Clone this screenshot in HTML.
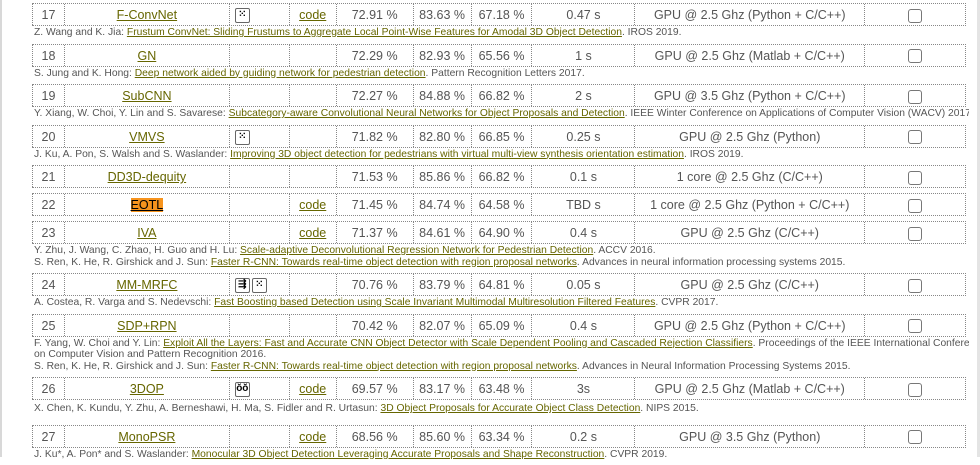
<!DOCTYPE html>
<html><head><meta charset="utf-8"><style>
html,body{margin:0;padding:0;}
body{width:980px;height:457px;overflow:hidden;background:#fff;font-family:"Liberation Sans",sans-serif;color:#555;position:relative;}
.lstrip{position:absolute;left:0;top:0;width:2px;height:457px;background:#d8d8d8;}
.rstrip{position:absolute;right:0;top:0;width:3px;height:457px;background:#e4e4e4;}
#tbl{position:absolute;left:32px;top:3px;width:934px;}
.entry{margin-bottom:5px;}
.row{display:flex;height:23px;border-top:1px dotted #888;border-bottom:1px dotted #888;border-right:1px dotted #888;box-sizing:border-box;font-size:12.5px;}
.row>div{border-left:1px dotted #888;box-sizing:border-box;text-align:center;line-height:22px;white-space:nowrap;}
.c1{width:32px}.c2{width:165px}.c3{width:60px;text-align:left!important;padding-left:5px}.c4{width:47px}.c5{width:77px}.c6{width:58px}.c7{width:61px}.c8{width:103px}.c9{width:230px}.c10{width:101px}
a{color:#666600;text-decoration:underline;}
.cite{font-size:10.3px;line-height:11.5px;padding:1px 0 0 2px;color:#555;white-space:nowrap;width:935px;overflow:hidden;}
.ico{display:inline-block;width:13px;height:13px;border:1px solid #666;border-radius:2px;vertical-align:middle;font-size:10px;line-height:12px;text-align:center;color:#000;margin-right:2px;font-weight:bold;}
.cb{display:inline-block;width:12px;height:12px;border:1px solid #777;border-radius:3px;vertical-align:middle;}
.hl{background:#f7941d;color:#000;}
</style></head><body>
<div class="lstrip"></div>
<div class="rstrip"></div>
<div id="tbl">

<div class="entry"><div class="row"><div class="c1">17</div><div class="c2"><a href="#">F-ConvNet</a></div><div class="c3"><span class="ico">⁙</span></div><div class="c4"><a href="#">code</a></div><div class="c5">72.91 %</div><div class="c6">83.63 %</div><div class="c7">67.18 %</div><div class="c8">0.47 s</div><div class="c9">GPU @ 2.5 Ghz (Python + C/C++)</div><div class="c10"><span class="cb"></span></div></div>
<div class="cite">Z. Wang and K. Jia: <a href="#">Frustum ConvNet: Sliding Frustums to Aggregate Local Point-Wise Features for Amodal 3D Object Detection</a>. IROS 2019.</div></div>

<div class="entry"><div class="row"><div class="c1">18</div><div class="c2"><a href="#">GN</a></div><div class="c3"></div><div class="c4"></div><div class="c5">72.29 %</div><div class="c6">82.93 %</div><div class="c7">65.56 %</div><div class="c8">1 s</div><div class="c9">GPU @ 2.5 Ghz (Matlab + C/C++)</div><div class="c10"><span class="cb"></span></div></div>
<div class="cite">S. Jung and K. Hong: <a href="#">Deep network aided by guiding network for pedestrian detection</a>. Pattern Recognition Letters 2017.</div></div>

<div class="entry"><div class="row"><div class="c1">19</div><div class="c2"><a href="#">SubCNN</a></div><div class="c3"></div><div class="c4"></div><div class="c5">72.27 %</div><div class="c6">84.88 %</div><div class="c7">66.82 %</div><div class="c8">2 s</div><div class="c9">GPU @ 3.5 Ghz (Python + C/C++)</div><div class="c10"><span class="cb"></span></div></div>
<div class="cite">Y. Xiang, W. Choi, Y. Lin and S. Savarese: <a href="#">Subcategory-aware Convolutional Neural Networks for Object Proposals and Detection</a>. IEEE Winter Conference on Applications of Computer Vision (WACV) 2017.</div></div>

<div class="entry"><div class="row"><div class="c1">20</div><div class="c2"><a href="#">VMVS</a></div><div class="c3"><span class="ico">⁙</span></div><div class="c4"></div><div class="c5">71.82 %</div><div class="c6">82.80 %</div><div class="c7">66.85 %</div><div class="c8">0.25 s</div><div class="c9">GPU @ 2.5 Ghz (Python)</div><div class="c10"><span class="cb"></span></div></div>
<div class="cite">J. Ku, A. Pon, S. Walsh and S. Waslander: <a href="#">Improving 3D object detection for pedestrians with virtual multi-view synthesis orientation estimation</a>. IROS 2019.</div></div>

<div class="entry"><div class="row"><div class="c1">21</div><div class="c2"><a href="#">DD3D-dequity</a></div><div class="c3"></div><div class="c4"></div><div class="c5">71.53 %</div><div class="c6">85.86 %</div><div class="c7">66.82 %</div><div class="c8">0.1 s</div><div class="c9">1 core @ 2.5 Ghz (C/C++)</div><div class="c10"><span class="cb"></span></div></div></div>

<div class="entry"><div class="row"><div class="c1">22</div><div class="c2"><a href="#" class="hl" style="color:#000">EOTL</a></div><div class="c3"></div><div class="c4"><a href="#">code</a></div><div class="c5">71.45 %</div><div class="c6">84.74 %</div><div class="c7">64.58 %</div><div class="c8">TBD s</div><div class="c9">1 core @ 2.5 Ghz (Python + C/C++)</div><div class="c10"><span class="cb"></span></div></div></div>

<div class="entry"><div class="row"><div class="c1">23</div><div class="c2"><a href="#">IVA</a></div><div class="c3"></div><div class="c4"><a href="#">code</a></div><div class="c5">71.37 %</div><div class="c6">84.61 %</div><div class="c7">64.90 %</div><div class="c8">0.4 s</div><div class="c9">GPU @ 2.5 Ghz (C/C++)</div><div class="c10"><span class="cb"></span></div></div>
<div class="cite">Y. Zhu, J. Wang, C. Zhao, H. Guo and H. Lu: <a href="#">Scale-adaptive Deconvolutional Regression Network for Pedestrian Detection</a>. ACCV 2016.<br>S. Ren, K. He, R. Girshick and J. Sun: <a href="#">Faster R-CNN: Towards real-time object detection with region proposal networks</a>. Advances in neural information processing systems 2015.</div></div>

<div class="entry"><div class="row"><div class="c1">24</div><div class="c2"><a href="#">MM-MRFC</a></div><div class="c3"><span class="ico">⇶</span><span class="ico">⁙</span></div><div class="c4"></div><div class="c5">70.76 %</div><div class="c6">83.79 %</div><div class="c7">64.81 %</div><div class="c8">0.05 s</div><div class="c9">GPU @ 2.5 Ghz (C/C++)</div><div class="c10"><span class="cb"></span></div></div>
<div class="cite">A. Costea, R. Varga and S. Nedevschi: <a href="#">Fast Boosting based Detection using Scale Invariant Multimodal Multiresolution Filtered Features</a>. CVPR 2017.</div></div>

<div class="entry"><div class="row"><div class="c1">25</div><div class="c2"><a href="#">SDP+RPN</a></div><div class="c3"></div><div class="c4"></div><div class="c5">70.42 %</div><div class="c6">82.07 %</div><div class="c7">65.09 %</div><div class="c8">0.4 s</div><div class="c9">GPU @ 2.5 Ghz (Python + C/C++)</div><div class="c10"><span class="cb"></span></div></div>
<div class="cite">F. Yang, W. Choi and Y. Lin: <a href="#">Exploit All the Layers: Fast and Accurate CNN Object Detector with Scale Dependent Pooling and Cascaded Rejection Classifiers</a>. Proceedings of the IEEE International Conference<br>on Computer Vision and Pattern Recognition 2016.<br>S. Ren, K. He, R. Girshick and J. Sun: <a href="#">Faster R-CNN: Towards real-time object detection with region proposal networks</a>. Advances in Neural Information Processing Systems 2015.</div></div>

<div class="entry" style="margin-bottom:10px"><div class="row"><div class="c1">26</div><div class="c2"><a href="#">3DOP</a></div><div class="c3"><span class="ico">ŏŏ</span></div><div class="c4"><a href="#">code</a></div><div class="c5">69.57 %</div><div class="c6">83.17 %</div><div class="c7">63.48 %</div><div class="c8">3s</div><div class="c9">GPU @ 2.5 Ghz (Matlab + C/C++)</div><div class="c10"><span class="cb"></span></div></div>
<div class="cite" style="padding-top:3px">X. Chen, K. Kundu, Y. Zhu, A. Berneshawi, H. Ma, S. Fidler and R. Urtasun: <a href="#">3D Object Proposals for Accurate Object Class Detection</a>. NIPS 2015.</div></div>

<div class="entry"><div class="row"><div class="c1">27</div><div class="c2"><a href="#">MonoPSR</a></div><div class="c3"></div><div class="c4"><a href="#">code</a></div><div class="c5">68.56 %</div><div class="c6">85.60 %</div><div class="c7">63.34 %</div><div class="c8">0.2 s</div><div class="c9">GPU @ 3.5 Ghz (Python)</div><div class="c10"><span class="cb"></span></div></div>
<div class="cite">J. Ku*, A. Pon* and S. Waslander: <a href="#">Monocular 3D Object Detection Leveraging Accurate Proposals and Shape Reconstruction</a>. CVPR 2019.</div></div>

</div>
</body></html>
